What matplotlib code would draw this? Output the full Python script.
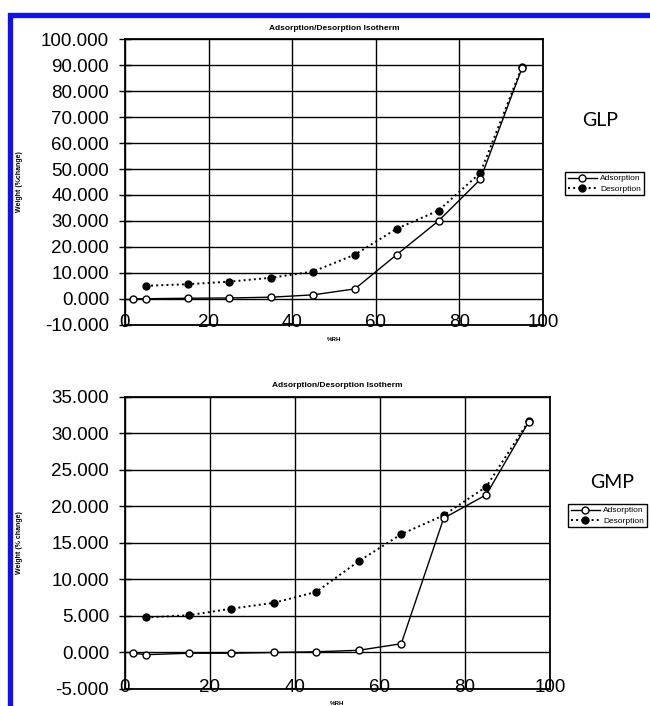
import numpy as np
import matplotlib.pyplot as plt
from matplotlib.patches import Rectangle

# GLP data (%RH vs weight % change)
glp_ads_rh = [2, 5, 15, 25, 35, 45, 55, 65, 75, 85, 95]
glp_ads_wt = [0.0, 0.0, 0.2, 0.3, 0.6, 1.5, 3.8, 17.0, 30.0, 46.0, 89.0]
glp_des_rh = [5, 15, 25, 35, 45, 55, 65, 75, 85, 95]
glp_des_wt = [5.0, 5.6, 6.6, 8.1, 10.5, 17.0, 27.0, 34.0, 48.5, 89.5]

# GMP data
gmp_ads_rh = [2, 5, 15, 25, 35, 45, 55, 65, 75, 85, 95]
gmp_ads_wt = [-0.1, -0.3, -0.1, -0.1, 0.0, 0.1, 0.3, 1.2, 18.4, 21.6, 31.6]
gmp_des_rh = [5, 15, 25, 35, 45, 55, 65, 75, 85, 95]
gmp_des_wt = [4.8, 5.1, 6.0, 6.8, 8.3, 12.5, 16.2, 18.8, 22.7, 31.7]

x_ticks = [0, 20, 40, 60, 80, 100]
glp_yticks = np.arange(-10, 101, 10)
gmp_yticks = np.arange(-5, 36, 5)

plt.rcParams['font.family'] = ['Liberation Sans', 'DejaVu Sans']

fig = plt.figure(figsize=(6.5, 7.06), dpi=100)
fig.patch.set_facecolor('white')


def draw_panel(ax, ads_x, ads_y, des_x, des_y, yticks, ylabel, label_txt, label_pos, leg_pos):
    ax.plot(ads_x, ads_y, '-', color='black', lw=1.0, marker='o', ms=5,
            mfc='white', mec='black', mew=1.0, label='Adsorption', zorder=4)
    ax.plot(des_x, des_y, ':', color='black', lw=1.4, marker='o', ms=5,
            mfc='black', mec='black', label='Desorption', zorder=3)
    ax.set_xlim(0, 100)
    ax.set_ylim(yticks[0], yticks[-1])
    ax.set_xticks(x_ticks)
    ax.set_yticks(yticks)
    ax.set_yticklabels(['%.3f' % v for v in yticks])
    ax.grid(True, color='black', lw=1.0)
    ax.set_axisbelow(True)
    for s in ax.spines.values():
        s.set_linewidth(1.3)
    ax.tick_params(axis='y', direction='inout', length=9, width=1, labelsize=13.5, pad=7)
    ax.tick_params(axis='x', length=0, labelsize=13.5, pad=-7.5)
    ax.set_title('Adsorption/Desorption Isotherm', fontsize=6, fontweight='bold', pad=7)
    ax.set_xlabel('%RH', fontsize=4.5, fontweight='bold', labelpad=4)
    fig.text(0.03, (ax.get_position().y0 + ax.get_position().y1) / 2, ylabel,
             rotation=90, fontsize=5, fontweight='bold', ha='center', va='center')
    fig.text(label_pos[0], label_pos[1], label_txt, fontsize=14, family=['Lato', 'DejaVu Sans'],
             ha='center', va='center')
    fig.legend(*ax.get_legend_handles_labels(), loc='upper left', bbox_to_anchor=leg_pos,
               fontsize=6, frameon=True, fancybox=False, edgecolor='black',
               borderpad=0.3, handlelength=3.5, labelspacing=0.3, handletextpad=0.4,
               framealpha=1)


ax1 = fig.add_axes([0.1923, 0.5401, 0.6431, 0.4042])
draw_panel(ax1, glp_ads_rh, glp_ads_wt, glp_des_rh, glp_des_wt, glp_yticks,
           'Weight (%change)', 'GLP', (600 / 650, 1 - 120 / 706), (561 / 650, 1 - 168 / 706))

ax2 = fig.add_axes([0.1923, 0.0241, 0.6538, 0.4136])
draw_panel(ax2, gmp_ads_rh, gmp_ads_wt, gmp_des_rh, gmp_des_wt, gmp_yticks,
           'Weight (% change)', 'GMP', (612 / 650, 1 - 483 / 706), (564 / 650, 1 - 500 / 706))

# blue frame, cut off at right and bottom
fig.add_artist(Rectangle((10 / 650, -0.1), 1.2, 1 - 14.5 / 706 + 0.1,
                         transform=fig.transFigure, fill=False, ec='#1010f0', lw=3.8))

fig.savefig('out.png', dpi=100)
